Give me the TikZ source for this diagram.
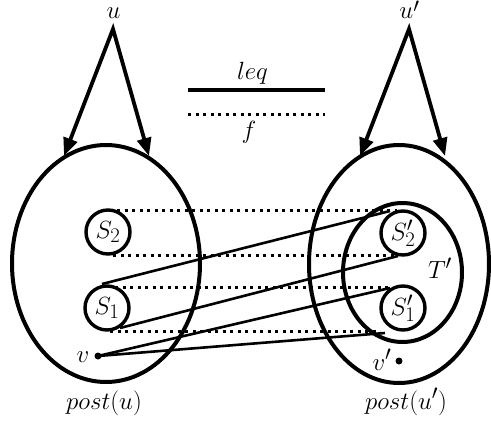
\documentclass[tikz,border=0pt]{standalone}
\usetikzlibrary{arrows.meta,shapes.geometric}
\begin{document}
\begin{tikzpicture}[x=1pt,y=-1pt,
  font=\fontsize{24.88}{30}\selectfont,
  big/.style={draw, ellipse, line width=4pt, inner sep=0pt},
  setc/.style={draw, circle, line width=3.4pt, minimum size=44pt, inner sep=0pt},
  match/.style={line width=2.6pt},
  fmap/.style={line width=3pt, dash pattern=on 3.2pt off 4.3pt},
  arr/.style={line width=3.8pt, {Triangle[length=18pt,width=14pt]}-{Triangle[length=18pt,width=14pt]}},
  lbl/.style={inner sep=0pt},
  dot/.style={circle, fill, inner sep=0pt, minimum size=7pt}]
\useasboundingbox (0,0) rectangle (491,421);

% big sets
\node[big, minimum width=188pt, minimum height=237pt] (pu) at (106,263.5) {};
\node[big, minimum width=180pt, minimum height=238pt] (pup) at (399,264) {};
\node[big, minimum width=119pt, minimum height=139pt] (T) at (402.5,272.5) {};

% small sets
\node[setc] (S2) at (108,232) {$S_2$};
\node[setc] (S1) at (107,308) {$S_1$};
\node[setc] (S2p) at (403,233) {$S'_2$};
\node[setc] (S1p) at (403,308) {$S'_1$};

% labels
\node[lbl, anchor=base] (u) at (113.5,18) {$u$};
\node[lbl, anchor=base] (up) at (409.5,18) {$u\raisebox{-4pt}{$'$}$};
\node[lbl] (Tl) at (440,268) {$T'$};
\node[lbl, anchor=base] (postu) at (104,409) {$post(u)$};
\node[lbl, anchor=base] (postup) at (406,409) {$post(u')$};
\node[lbl, anchor=base] (leq) at (252.5,79) {$leq$};
\node[lbl, anchor=base] (fl) at (249,138.5) {$f$};

% points v, v'
\node[dot] (v) at (98,356) {};
\node[lbl, anchor=base] (vl) at (83,362) {$v$};
\node[dot] (vp) at (399,361) {};
\node[lbl, anchor=base] (vpl) at (382,370) {$v'$};

% arrows from u and u'
\coordinate (ua) at (113,29);
\coordinate (ul) at (64,156);
\coordinate (ur) at (149,156);
\coordinate (upa) at (409,29);
\coordinate (upl) at (360,156);
\coordinate (upr) at (445,156);
\draw[arr] (ul) -- (ua) -- (ur);
\draw[arr] (upl) -- (upa) -- (upr);

% legend
\coordinate (la) at (188,90);
\coordinate (lb) at (325,90);
\coordinate (lc) at (188,114);
\coordinate (ld) at (325,114);
\draw[line width=3.6pt] (la) -- (lb);
\draw[fmap] (lc) -- (ld);

% f (dotted) connections
\coordinate (d1a) at (117,210); \coordinate (d1b) at (397,210);
\coordinate (d2a) at (113,255); \coordinate (d2b) at (397,255);
\coordinate (d3a) at (115,287); \coordinate (d3b) at (392,287);
\coordinate (d4a) at (110,331); \coordinate (d4b) at (380,331);
\draw[fmap] (d1a) -- (d1b);
\draw[fmap] (d2a) -- (d2b);
\draw[fmap] (d3a) -- (d3b);
\draw[fmap] (d4a) -- (d4b);

% leq (solid) connections
\coordinate (m1a) at (102,284); \coordinate (m1b) at (390,211);
\coordinate (m2a) at (120,328); \coordinate (m2b) at (398,256);
\coordinate (m3b) at (390,288);
\coordinate (m4b) at (385,333);
\draw[match] (m1a) -- (m1b);
\draw[match] (m2a) -- (m2b);
\draw[match] (v.center) -- (m3b);
\draw[match] (v.center) -- (m4b);
\end{tikzpicture}
\end{document}
